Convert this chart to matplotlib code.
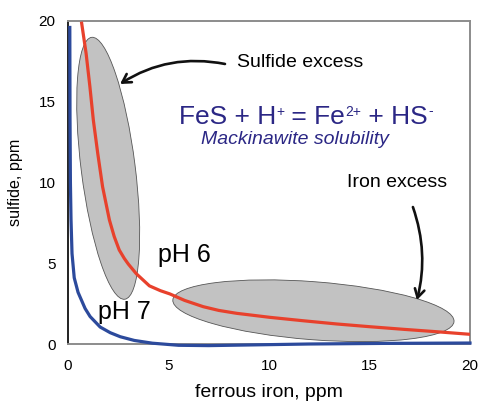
import matplotlib
matplotlib.use('Agg')
import matplotlib.pyplot as plt
from matplotlib.patches import Ellipse
from matplotlib.transforms import ScaledTranslation

plt.rcParams['font.family'] = ['Liberation Sans', 'DejaVu Sans']

# pH 6 solubility curve (ferrous iron ppm, sulfide ppm)
ph6_fe = [0.68, 0.9, 1.09, 1.26, 1.48, 1.72, 2.06, 2.3, 2.55, 2.8, 3.0, 3.4, 4.05, 4.6,
          5.07, 5.8, 6.73, 7.5, 8.39, 10.05, 11.7, 13.37, 15.02, 16.68, 18.34, 20.0]
ph6_s = [19.86, 18.0, 15.93, 13.87, 11.8, 9.74, 7.68, 6.65, 5.82, 5.3, 4.95, 4.35, 3.6, 3.3,
         3.1, 2.7, 2.31, 2.08, 1.9, 1.65, 1.44, 1.24, 1.07, 0.91, 0.76, 0.6]

# pH 7 solubility curve
ph7_fe = [0.09, 0.1, 0.12, 0.15, 0.2, 0.31, 0.5, 0.85, 1.1, 1.6, 2.1, 2.6, 3.3, 4.2,
          5.5, 7.0, 9.0, 12.0, 16.0, 20.0]
ph7_s = [19.6, 14.0, 10.0, 7.7, 5.6, 4.1, 3.2, 2.2, 1.7, 1.05, 0.7, 0.45, 0.22, 0.05,
         -0.08, -0.1, -0.06, 0.0, 0.04, 0.06]

ticks = [0, 5, 10, 15, 20]

# shaded regions: centre (data), long axis, short axis (inches), tilt (deg)
regions = [
    (2.0, 10.88, 2.64, 0.54, 97.2),    # sulfide excess
    (12.21, 2.06, 2.82, 0.58, -4.4),   # iron excess
]

# reaction text pieces: (text, is_superscript)
reaction = [('FeS + H', False), ('+', True), (' = Fe', False), ('2+', True),
            (' + HS', False), ('-', True)]

red = '#e8412c'
blue = '#2c4a9c'
navy = '#2b2785'

fig = plt.figure(figsize=(4.81, 4.07), dpi=100)
ax = fig.add_axes([68 / 481, 63 / 407, 402 / 481, 323 / 407])
ax.set_xlim(0, 20)
ax.set_ylim(0, 20)

for cx, cy, w, h, ang in regions:
    tr = fig.dpi_scale_trans + ScaledTranslation(cx, cy, ax.transData)
    ax.add_patch(Ellipse((0, 0), w, h, angle=ang, transform=tr,
                         facecolor='#c2c2c2', edgecolor='#555555', lw=0.6, zorder=2))

ax.plot(ph6_fe, ph6_s, color=red, lw=2.3, zorder=3, solid_joinstyle='round')
ax.plot(ph7_fe, ph7_s, color=blue, lw=2.3, zorder=3, clip_on=False,
        solid_joinstyle='round')

ax.set_xticks(ticks)
ax.set_yticks(ticks)
ax.tick_params(length=0, labelsize=11, pad=11)
ax.tick_params(axis='y', pad=9)
ax.set_xlabel('ferrous iron, ppm', fontsize=14, labelpad=8)
ax.set_ylabel('sulfide, ppm', fontsize=11.6, labelpad=11)

for side in ['top', 'right', 'bottom']:
    ax.spines[side].set_color('#8c8c8c')
    ax.spines[side].set_linewidth(1.4)
ax.spines['left'].set_color('#222222')
ax.spines['left'].set_linewidth(1.4)

ax.text(8.41, 17.4, 'Sulfide excess', fontsize=14, ha='left', va='center')
ax.text(13.88, 10.03, 'Iron excess', fontsize=14, ha='left', va='center')
ax.text(11.29, 12.69, 'Mackinawite solubility', fontsize=14, color=navy,
        style='italic', ha='center', va='center')
ax.text(4.48, 5.51, 'pH 6', fontsize=18, ha='left', va='center')
ax.text(1.49, 1.98, 'pH 7', fontsize=18, ha='left', va='center')

# reaction line built piece by piece so the superscripts sit small and high
base = ax.text(5.5, 13.3, reaction[0][0], fontsize=19, color=navy,
               ha='left', va='bottom')
prev = base
for txt, sup in reaction[1:]:
    if sup:
        prev = ax.annotate(txt, xy=(1, 1), xycoords=(prev, base),
                           xytext=(0.2, 0.5), textcoords='offset points',
                           fontsize=10, color=navy, ha='left', va='top')
    else:
        prev = ax.annotate(txt, xy=(1, 0), xycoords=(prev, base),
                           fontsize=19, color=navy, ha='left', va='bottom')

ax.annotate('', xy=(2.59, 16.1), xytext=(7.81, 17.34),
            arrowprops=dict(arrowstyle='->,head_length=0.6,head_width=0.35',
                            connectionstyle='arc3,rad=0.2', color='#111111',
                            lw=1.9, shrinkA=0, shrinkB=0))
ax.annotate('', xy=(17.36, 2.72), xytext=(17.16, 8.48),
            arrowprops=dict(arrowstyle='->,head_length=0.6,head_width=0.35',
                            connectionstyle='arc3,rad=-0.15', color='#111111',
                            lw=1.9, shrinkA=0, shrinkB=0))

fig.savefig('out.png', dpi=100)
